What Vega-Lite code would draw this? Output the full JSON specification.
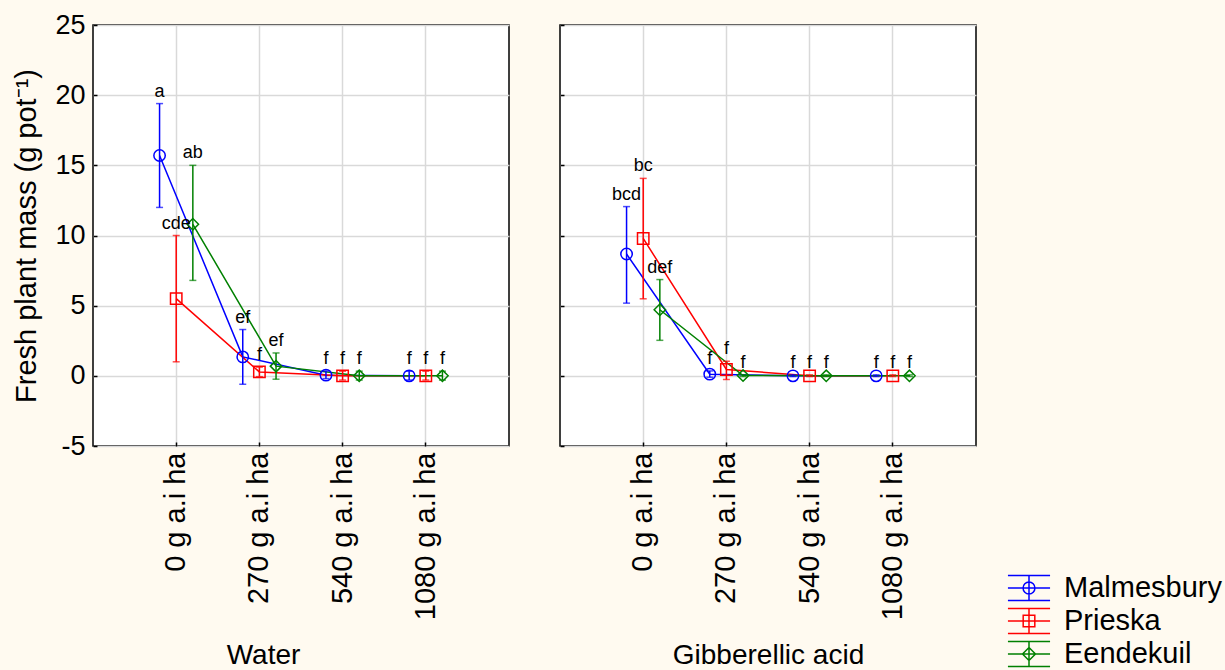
{
  "$schema": "https://vega.github.io/schema/vega-lite/v6.json",
  "background": "#FFFAF0",
  "padding": {"left": 12, "top": 10, "right": 5, "bottom": 0},
  "data": {"values": [
    {"treatment": "Water", "dose": "0 g a.i ha", "site": "Malmesbury", "mean": 15.7, "lower": 12.0, "upper": 19.4, "grp": "a"},
    {"treatment": "Water", "dose": "270 g a.i ha", "site": "Malmesbury", "mean": 1.35, "lower": -0.6, "upper": 3.3, "grp": "ef"},
    {"treatment": "Water", "dose": "540 g a.i ha", "site": "Malmesbury", "mean": 0.05, "lower": -0.2, "upper": 0.35, "grp": "f"},
    {"treatment": "Water", "dose": "1080 g a.i ha", "site": "Malmesbury", "mean": 0.0, "lower": -0.3, "upper": 0.33, "grp": "f"},
    {"treatment": "Water", "dose": "0 g a.i ha", "site": "Prieska", "mean": 5.5, "lower": 1.0, "upper": 10.0, "grp": "cde"},
    {"treatment": "Water", "dose": "270 g a.i ha", "site": "Prieska", "mean": 0.28, "lower": -0.06, "upper": 0.62, "grp": "f"},
    {"treatment": "Water", "dose": "540 g a.i ha", "site": "Prieska", "mean": 0.0, "lower": -0.3, "upper": 0.33, "grp": "f"},
    {"treatment": "Water", "dose": "1080 g a.i ha", "site": "Prieska", "mean": 0.0, "lower": -0.3, "upper": 0.33, "grp": "f"},
    {"treatment": "Water", "dose": "0 g a.i ha", "site": "Eendekuil", "mean": 10.8, "lower": 6.8, "upper": 15.0, "grp": "ab"},
    {"treatment": "Water", "dose": "270 g a.i ha", "site": "Eendekuil", "mean": 0.69, "lower": -0.24, "upper": 1.63, "grp": "ef"},
    {"treatment": "Water", "dose": "540 g a.i ha", "site": "Eendekuil", "mean": 0.0, "lower": -0.3, "upper": 0.33, "grp": "f"},
    {"treatment": "Water", "dose": "1080 g a.i ha", "site": "Eendekuil", "mean": 0.0, "lower": -0.3, "upper": 0.33, "grp": "f"},
    {"treatment": "Gibberellic acid", "dose": "0 g a.i ha", "site": "Malmesbury", "mean": 8.68, "lower": 5.18, "upper": 12.06, "grp": "bcd"},
    {"treatment": "Gibberellic acid", "dose": "270 g a.i ha", "site": "Malmesbury", "mean": 0.12, "lower": -0.1, "upper": 0.35, "grp": "f"},
    {"treatment": "Gibberellic acid", "dose": "540 g a.i ha", "site": "Malmesbury", "mean": 0.0, "lower": -0.05, "upper": 0.07, "grp": "f"},
    {"treatment": "Gibberellic acid", "dose": "1080 g a.i ha", "site": "Malmesbury", "mean": 0.0, "lower": -0.05, "upper": 0.07, "grp": "f"},
    {"treatment": "Gibberellic acid", "dose": "0 g a.i ha", "site": "Prieska", "mean": 9.79, "lower": 5.49, "upper": 14.07, "grp": "bc"},
    {"treatment": "Gibberellic acid", "dose": "270 g a.i ha", "site": "Prieska", "mean": 0.45, "lower": -0.26, "upper": 1.04, "grp": "f"},
    {"treatment": "Gibberellic acid", "dose": "540 g a.i ha", "site": "Prieska", "mean": 0.0, "lower": -0.05, "upper": 0.07, "grp": "f"},
    {"treatment": "Gibberellic acid", "dose": "1080 g a.i ha", "site": "Prieska", "mean": 0.0, "lower": -0.05, "upper": 0.07, "grp": "f"},
    {"treatment": "Gibberellic acid", "dose": "0 g a.i ha", "site": "Eendekuil", "mean": 4.71, "lower": 2.53, "upper": 6.86, "grp": "def"},
    {"treatment": "Gibberellic acid", "dose": "270 g a.i ha", "site": "Eendekuil", "mean": 0.02, "lower": -0.05, "upper": 0.07, "grp": "f"},
    {"treatment": "Gibberellic acid", "dose": "540 g a.i ha", "site": "Eendekuil", "mean": 0.0, "lower": -0.05, "upper": 0.07, "grp": "f"},
    {"treatment": "Gibberellic acid", "dose": "1080 g a.i ha", "site": "Eendekuil", "mean": 0.0, "lower": -0.05, "upper": 0.07, "grp": "f"}
  ]},
  "spacing": 27,
  "resolve": {"scale": {"shape": "independent"}},
  "hconcat": [
    {
      "spacing": 48,
      "hconcat": [
        {
          "width": 416,
          "height": 421,
          "transform": [{"filter": "datum.treatment === 'Water'"}],
          "encoding": {
            "x": {"field": "dose", "type": "nominal", "sort": ["0 g a.i ha", "270 g a.i ha", "540 g a.i ha", "1080 g a.i ha"],
                  "scale": {"type": "band", "paddingInner": 0, "paddingOuter": 0.5},
                  "axis": {"title": "Water", "titleX": 170, "bandPosition": 0.5, "labelAngle": -90, "labelPadding": 10, "labelFontSize": 29, "titlePadding": 22}},
            "xOffset": {"field": "site", "type": "nominal", "sort": ["Malmesbury", "Prieska", "Eendekuil"], "scale": {"paddingInner": 0, "paddingOuter": 1.83}},
            "color": {"field": "site", "type": "nominal", "sort": ["Malmesbury", "Prieska", "Eendekuil"],
                      "scale": {"domain": ["Malmesbury", "Prieska", "Eendekuil"], "range": ["#0000FF", "#FF0000", "#008000"]}, "legend": null}
          },
          "layer": [
            {"mark": {"type": "line", "strokeWidth": 1.5},
             "encoding": {"y": {"field": "mean", "type": "quantitative", "scale": {"domain": [-5, 25], "nice": false},
                                "axis": {"title": "Fresh plant mass (g pot⁻¹)", "values": [-5, 0, 5, 10, 15, 20, 25], "labelExpr": "'' + datum.value", "labelPadding": 12, "titlePadding": 13, "titleFontSize": 29}}}},
            {"mark": {"type": "rule", "strokeWidth": 1.5},
             "encoding": {"y": {"field": "lower", "type": "quantitative", "axis": {"title": "Fresh plant mass (g pot⁻¹)", "values": [-5, 0, 5, 10, 15, 20, 25], "labelExpr": "'' + datum.value", "labelPadding": 12, "titlePadding": 13, "titleFontSize": 29}}, "y2": {"field": "upper"}}},
            {"mark": {"type": "tick", "thickness": 1.5, "size": 7},
             "encoding": {"y": {"field": "lower", "type": "quantitative", "axis": {"title": "Fresh plant mass (g pot⁻¹)", "values": [-5, 0, 5, 10, 15, 20, 25], "labelExpr": "'' + datum.value", "labelPadding": 12, "titlePadding": 13, "titleFontSize": 29}}}},
            {"mark": {"type": "tick", "thickness": 1.5, "size": 7},
             "encoding": {"y": {"field": "upper", "type": "quantitative", "axis": {"title": "Fresh plant mass (g pot⁻¹)", "values": [-5, 0, 5, 10, 15, 20, 25], "labelExpr": "'' + datum.value", "labelPadding": 12, "titlePadding": 13, "titleFontSize": 29}}}},
            {"mark": {"type": "point", "filled": false, "size": 130, "strokeWidth": 1.5, "opacity": 1},
             "encoding": {"y": {"field": "mean", "type": "quantitative", "axis": {"title": "Fresh plant mass (g pot⁻¹)", "values": [-5, 0, 5, 10, 15, 20, 25], "labelExpr": "'' + datum.value", "labelPadding": 12, "titlePadding": 13, "titleFontSize": 29}},
                          "shape": {"field": "site", "type": "nominal", "scale": {"domain": ["Malmesbury", "Prieska", "Eendekuil"], "range": ["circle", "square", "diamond"]}, "legend": null}}},
            {"mark": {"type": "text", "baseline": "bottom", "dy": -3, "fontSize": 18, "font": "Liberation Sans"},
             "encoding": {"y": {"field": "upper", "type": "quantitative", "axis": {"title": "Fresh plant mass (g pot⁻¹)", "values": [-5, 0, 5, 10, 15, 20, 25], "labelExpr": "'' + datum.value", "labelPadding": 12, "titlePadding": 13, "titleFontSize": 29}}, "text": {"field": "grp"}, "color": {"value": "black"}}}
          ]
        },
        {
          "width": 416,
          "height": 421,
          "transform": [{"filter": "datum.treatment === 'Gibberellic acid'"}],
          "encoding": {
            "x": {"field": "dose", "type": "nominal", "sort": ["0 g a.i ha", "270 g a.i ha", "540 g a.i ha", "1080 g a.i ha"],
                  "scale": {"type": "band", "paddingInner": 0, "paddingOuter": 0.5},
                  "axis": {"title": "Gibberellic acid", "bandPosition": 0.5, "labelAngle": -90, "labelPadding": 10, "labelFontSize": 29, "titlePadding": 22}},
            "xOffset": {"field": "site", "type": "nominal", "sort": ["Malmesbury", "Prieska", "Eendekuil"], "scale": {"paddingInner": 0, "paddingOuter": 1.83}},
            "color": {"field": "site", "type": "nominal", "sort": ["Malmesbury", "Prieska", "Eendekuil"],
                      "scale": {"domain": ["Malmesbury", "Prieska", "Eendekuil"], "range": ["#0000FF", "#FF0000", "#008000"]}, "legend": null}
          },
          "layer": [
            {"mark": {"type": "line", "strokeWidth": 1.5},
             "encoding": {"y": {"field": "mean", "type": "quantitative", "scale": {"domain": [-5, 25], "nice": false},
                                "axis": {"title": null, "labels": false, "values": [-5, 0, 5, 10, 15, 20, 25]}}}},
            {"mark": {"type": "rule", "strokeWidth": 1.5},
             "encoding": {"y": {"field": "lower", "type": "quantitative", "axis": {"title": null, "labels": false, "values": [-5, 0, 5, 10, 15, 20, 25]}}, "y2": {"field": "upper"}}},
            {"mark": {"type": "tick", "thickness": 1.5, "size": 7},
             "encoding": {"y": {"field": "lower", "type": "quantitative", "axis": {"title": null, "labels": false, "values": [-5, 0, 5, 10, 15, 20, 25]}}}},
            {"mark": {"type": "tick", "thickness": 1.5, "size": 7},
             "encoding": {"y": {"field": "upper", "type": "quantitative", "axis": {"title": null, "labels": false, "values": [-5, 0, 5, 10, 15, 20, 25]}}}},
            {"mark": {"type": "point", "filled": false, "size": 130, "strokeWidth": 1.5, "opacity": 1},
             "encoding": {"y": {"field": "mean", "type": "quantitative", "axis": {"title": null, "labels": false, "values": [-5, 0, 5, 10, 15, 20, 25]}},
                          "shape": {"field": "site", "type": "nominal", "scale": {"domain": ["Malmesbury", "Prieska", "Eendekuil"], "range": ["circle", "square", "diamond"]}, "legend": null}}},
            {"mark": {"type": "text", "baseline": "bottom", "dy": -3, "fontSize": 18, "font": "Liberation Sans"},
             "encoding": {"y": {"field": "upper", "type": "quantitative", "axis": {"title": null, "labels": false, "values": [-5, 0, 5, 10, 15, 20, 25]}}, "text": {"field": "grp"}, "color": {"value": "black"}}}
          ]
        }
      ]
    },
    {
      "width": 42,
      "height": 629,
      "view": {"stroke": null, "fill": null},
      "data": {"values": [
        {"site": "Malmesbury", "order": 1},
        {"site": "Prieska", "order": 2},
        {"site": "Eendekuil", "order": 3}
      ]},
      "encoding": {
        "y": {"field": "order", "type": "quantitative",
              "scale": {"domain": [-16.06, 3], "reverse": true, "zero": false, "nice": false}, "axis": null}
      },
      "layer": [
        {"mark": {"type": "point", "filled": false, "size": 729, "strokeWidth": 1.5, "opacity": 1},
         "encoding": {
           "color": {"field": "site", "type": "nominal", "scale": {"domain": ["Malmesbury", "Prieska", "Eendekuil"], "range": ["#0000FF", "#FF0000", "#008000"]}, "legend": null},
           "shape": {"field": "site", "type": "nominal", "legend": null,
                     "scale": {"domain": ["Malmesbury", "Prieska", "Eendekuil"],
                               "range": ["M-1.56,-0.93H1.56M-1.56,0H1.56M-1.56,0.93H1.56M0,-0.93V0.93M0.44,0A0.44,0.44,0,1,1,-0.44,0A0.44,0.44,0,1,1,0.44,0",
                                         "M-1.56,-0.93H1.56M-1.56,0H1.56M-1.56,0.93H1.56M0,-0.93V0.93M-0.43,-0.43H0.43V0.43H-0.43Z",
                                         "M-1.56,-0.93H1.56M-1.56,0H1.56M-1.56,0.93H1.56M0,-0.93V0.93M0,-0.48L0.48,0L0,0.48L-0.48,0Z"]}}
         }},
        {"mark": {"type": "text", "align": "left", "baseline": "middle", "dx": 35, "fontSize": 29, "font": "Liberation Sans", "color": "black"},
         "encoding": {"text": {"field": "site"}}}
      ]
    }
  ],
  "config": {
    "font": "Liberation Sans",
    "legend": {"disable": true},
    "view": {"fill": "white", "stroke": "black", "strokeWidth": 1.5},
    "axis": {"domain": false, "grid": true, "gridColor": "#D9D9D9", "gridWidth": 1.5,
             "ticks": true, "tickSize": -4, "tickColor": "black", "tickWidth": 1.5,
             "labelFont": "Liberation Sans", "labelFontSize": 27, "labelColor": "black",
             "titleFont": "Liberation Sans", "titleFontSize": 28, "titleFontWeight": "normal", "titleColor": "black"}
  }
}
